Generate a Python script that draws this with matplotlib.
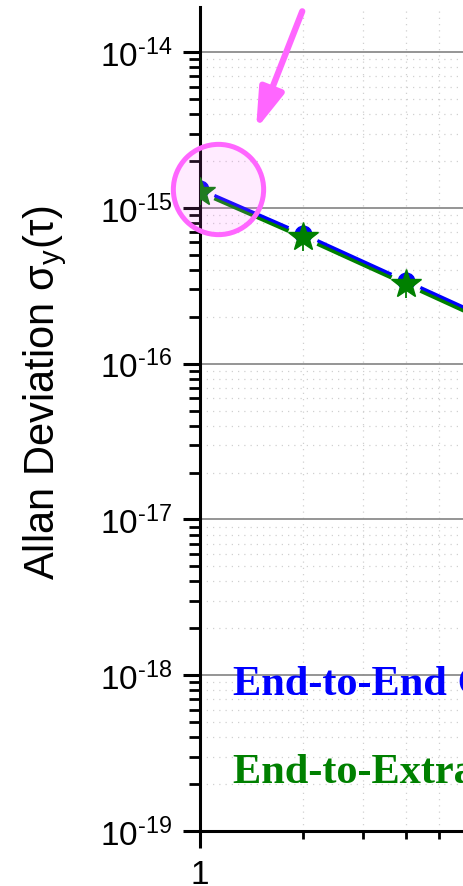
import numpy as np
import matplotlib.pyplot as plt
from matplotlib.ticker import FuncFormatter, FixedLocator

plt.rcParams['font.family'] = ['Liberation Sans', 'DejaVu Sans']
plt.rcParams['mathtext.fontset'] = 'custom'
plt.rcParams['mathtext.rm'] = 'Liberation Sans'
plt.rcParams['mathtext.it'] = 'Liberation Sans:italic'
plt.rcParams['mathtext.default'] = 'regular'
plt.rcParams['axes.unicode_minus'] = False

# averaging time (s) and Allan deviation
tau = [1, 2, 4, 8]
adev_end2end = [1.32e-15, 6.8e-16, 3.4e-16, 1.7e-16]
adev_end2extra = [1.27e-15, 6.5e-16, 3.25e-16, 1.62e-16]
err_end2extra = [2.3e-16, 1.2e-16, 6.0e-17, 3.0e-17]

label_end2end = 'End-to-End Comparison'
label_end2extra = 'End-to-Extraction Comparison'

pink = '#ff66ff'

fig = plt.figure(figsize=(4.64, 8.87), dpi=100)
ax = fig.add_axes([200 / 464, 55 / 887, 264 / 464, 824 / 887])
ax.set_xscale('log')
ax.set_yscale('log')
ax.set_xlim(1, 5.91)
ax.set_ylim(1e-19, 1.95e-14)


# lines with a small gap at each symbol (Origin style)
def gapped_line(x, y, color, lw, gap=0.14):
    lx, ly = np.log10(x), np.log10(y)
    for i in range(len(lx) - 1):
        dx, dy = lx[i + 1] - lx[i], ly[i + 1] - ly[i]
        xs = [lx[i] + gap * dx, lx[i + 1] - gap * dx]
        ys = [ly[i] + gap * dy, ly[i + 1] - gap * dy]
        ax.plot(10 ** np.array(xs), 10 ** np.array(ys), color=color, lw=lw,
                solid_capstyle='butt', zorder=3)


gapped_line(tau, adev_end2extra, 'green', 3.2)
gapped_line(tau, adev_end2end, 'blue', 2.3)

ax.plot(tau, adev_end2end, 'o', color='blue', ms=12, zorder=4)
ax.errorbar(tau, adev_end2extra, yerr=err_end2extra, fmt='*', color='green',
            ms=22, elinewidth=1.3, capsize=0, zorder=5)

# highlight circle + arrow
ax.plot([1.129], [1.32e-15], 'o', ms=65, mfc=(1, 0.4, 1, 0.13), mec=pink,
        mew=3.6, clip_on=False, zorder=6)
ax.annotate('', xy=(1.458, 3.2e-15), xytext=(1.99, 1.83e-14),
            arrowprops=dict(arrowstyle='-|>,head_length=0.8,head_width=0.25',
                            color=pink, lw=4.5, mutation_scale=30,
                            shrinkA=0, shrinkB=0),
            annotation_clip=False, zorder=6)

ax.text(0.125, 0.166, label_end2end, transform=ax.transAxes, color='blue',
        fontsize=30.5, fontweight='bold', family='Liberation Serif',
        va='baseline', clip_on=True)
ax.text(0.125, 0.0595, label_end2extra, transform=ax.transAxes, color='green',
        fontsize=30.5, fontweight='bold', family='Liberation Serif',
        va='baseline', clip_on=True)

# grid
ax.grid(True, which='major', axis='y', color='#8c8c8c', lw=1.3, ls='-')
ax.grid(True, which='minor', color='#d0d0d0', lw=0.9, ls=(0, (1, 4)))
ax.set_axisbelow(True)

ax.spines['top'].set_visible(False)
ax.spines['right'].set_visible(False)
ax.spines['left'].set_linewidth(2.2)
ax.spines['bottom'].set_linewidth(2.2)

# tick labels: plain "1" on x, 10^-n with a short hyphen on y
ax.xaxis.set_major_locator(FixedLocator([1]))
ax.xaxis.set_major_formatter(FuncFormatter(lambda v, p: '%g' % v))
ax.yaxis.set_major_formatter(FuncFormatter(
    lambda v, p: r'$10^{\text{-%d}}$' % round(-np.log10(v))))

ax.tick_params(which='major', direction='out', length=12, width=2.2,
               labelsize=24, pad=8)
ax.tick_params(axis='y', which='minor', direction='out', length=8, width=2)
ax.tick_params(axis='x', which='minor', direction='out', length=6, width=2)
ax.tick_params(axis='x', which='minor', labelbottom=False)

ax.set_ylabel(r'Allan Deviation $\sigma_y(\tau)$', fontsize=30)
ax.yaxis.set_label_coords(-0.498, 0.533)

fig.savefig('out.png', dpi=100)
